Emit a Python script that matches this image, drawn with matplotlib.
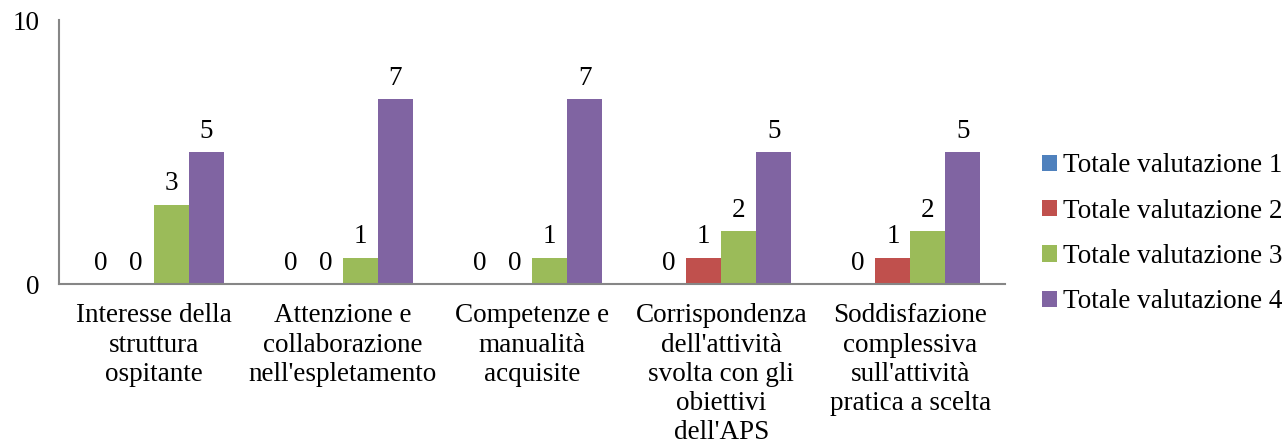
import numpy as np
import matplotlib.pyplot as plt

plt.rcParams['font.family'] = ['Liberation Serif', 'DejaVu Serif']

categorie = [
    "Interesse della\nstruttura\nospitante",
    "Attenzione e\ncollaborazione\nnell'espletamento",
    "Competenze e\nmanualità\nacquisite",
    "Corrispondenza\ndell'attività\nsvolta con gli\nobiettivi\ndell'APS",
    "Soddisfazione\ncomplessiva\nsull'attività\npratica a scelta",
]
serie = ["Totale valutazione 1", "Totale valutazione 2",
         "Totale valutazione 3", "Totale valutazione 4"]
val1 = [0, 0, 0, 0, 0]
val2 = [0, 0, 0, 1, 1]
val3 = [3, 1, 1, 2, 2]
val4 = [5, 7, 7, 5, 5]
colori = ['#4F81BD', '#C0504D', '#9BBB59', '#8064A2']

fs = 19.5
fig = plt.figure(figsize=(12.87, 4.48), dpi=100)
ax = fig.add_axes([59 / 1287, 1 - 284 / 448, (1005 - 59) / 1287, (284 - 20) / 448])

x = np.arange(len(categorie))
w = 0.185
for i, (nome, vals) in enumerate(zip(serie, [val1, val2, val3, val4])):
    pos = x + (i - 1.5) * w
    ax.bar(pos, vals, width=w, color=colori[i], label=nome, zorder=2)
    for p, v in zip(pos, vals):
        ax.annotate(str(v), (p, v), xytext=(0, 6), textcoords='offset points',
                    ha='center', va='bottom', fontsize=fs)

ax.set_xlim(-0.5, len(categorie) - 0.5)
ax.set_ylim(0, 10)
ax.set_yticks([0, 10])
ax.set_xticks(x)
ax.set_xticklabels(categorie, fontsize=fs, linespacing=1.22)
ax.tick_params(axis='both', length=0, labelsize=fs)
ax.tick_params(axis='y', pad=14)
ax.tick_params(axis='x', pad=14)
for s in ['top', 'right']:
    ax.spines[s].set_visible(False)
for s in ['left', 'bottom']:
    ax.spines[s].set_color('#868686')
    ax.spines[s].set_linewidth(1.5)

ax.legend(loc='center left', bbox_to_anchor=(1.028, 0.19), frameon=False,
          fontsize=fs, handlelength=0.55, handleheight=0.55, handletextpad=0.2,
          labelspacing=0.75, borderaxespad=0)

fig.savefig('out.png', dpi=100)
